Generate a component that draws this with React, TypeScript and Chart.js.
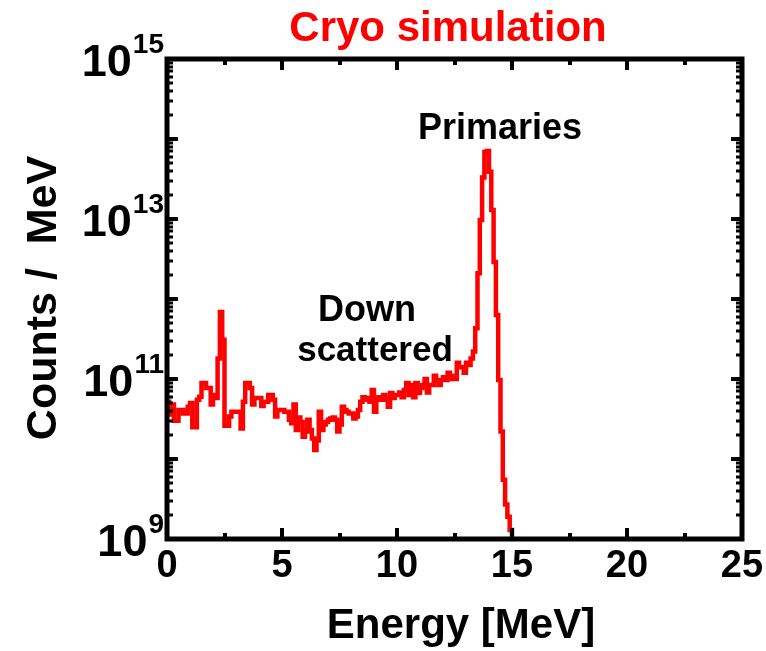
import React, { useEffect, useRef } from "react";
import { Chart, registerables } from "chart.js";

Chart.register(...registerables);

// Histogram binning (MeV)
const BIN_WIDTH = 0.1;
const FIRST_BIN = 0;

// Counts per MeV, 0.0 – 4.9 MeV
const lowEnergyCounts = [
  4.5e10, 5.2e10, 3.6e10, 4.8e10, 3.0e10, 3.0e10, 4.1e10, 4.1e10, 3.7e10, 3.7e10,
  4.5e10, 5.0e10, 2.5e10, 2.5e10, 5.5e10, 6.0e10, 8.9e10, 8.9e10, 7.7e10, 7.7e10,
  4.8e10, 6.3e10, 5.8e10, 1.8e11, 6.9e11, 3.1e11, 2.6e10, 2.6e10, 3.4e10, 3.9e10,
  3.9e10, 3.9e10, 3.9e10, 2.4e10, 5.2e10, 8.9e10, 8.9e10, 7.7e10, 4.8e10, 5.8e10,
  5.8e10, 5.8e10, 4.6e10, 5.2e10, 5.2e10, 6.3e10, 6.3e10, 5.5e10, 3.4e10, 4.1e10,
];

// 5.0 – 9.9 MeV
const midEnergyCounts = [
  4.1e10, 4.1e10, 3.9e10, 3.9e10, 3.1e10, 2.8e10, 4.8e10, 2.3e10, 3.3e10, 2.9e10,
  1.9e10, 2.2e10, 3.1e10, 2.3e10, 1.8e10, 1.3e10, 1.7e10, 3.9e10, 2.3e10, 2.7e10,
  2.9e10, 3.1e10, 3.2e10, 3.3e10, 3.1e10, 2.2e10, 2.7e10, 4.5e10, 4.1e10, 3.9e10,
  3.7e10, 3.7e10, 3.2e10, 3.4e10, 4.1e10, 5.2e10, 5.9e10, 5.5e10, 5.8e10, 5.2e10,
  7.3e10, 3.9e10, 5.5e10, 5.9e10, 5.5e10, 6.3e10, 5.5e10, 4.5e10, 6.7e10, 5.8e10,
];

// 10.0 – 13.4 MeV
const highEnergyCounts = [
  6.3e10, 6.3e10, 6.8e10, 5.9e10, 7.3e10, 8.9e10, 6.3e10, 8.4e10, 5.9e10, 8.9e10,
  6.7e10, 7.7e10, 8.4e10, 1.0e11, 6.8e10, 8.4e10, 8.4e10, 1.1e11, 9.7e10, 8.4e10,
  9.7e10, 1.05e11, 9.7e10, 1.2e11, 1.1e11, 1.0e11, 1.0e11, 1.6e11, 1.4e11, 1.4e11,
  1.2e11, 1.6e11, 1.5e11, 1.8e11, 2.2e11,
];

// 13.5 – 15.1 MeV (primary peak)
const peakCounts = [
  4.3e11, 2.1e12, 9.7e12, 3.3e13, 6.9e13, 7.1e13, 3.9e13, 1.3e13, 2.9e12, 6.3e11,
  9.7e10, 2.2e10, 5.5e9, 2.7e9, 1.9e9, 1.3e9, 6e8,
];

const xTickValues = [0, 5, 10, 15, 20, 25];
const xMinorTickValues = [2.5, 7.5, 12.5, 17.5, 22.5];
const yDecadeExponents = [9, 11, 13, 15];

const X_MIN = 0;
const X_MAX = 25;
const Y_MIN = 1e9;
const Y_MAX = 1e15;

const TITLE = "Cryo simulation";
const X_TITLE = "Energy [MeV]";
const Y_TITLE = "Counts /  MeV";
const PEAK_NOTE = "Primaries";
const TAIL_NOTE = ["Down", "scattered"];

const FONT = '"Liberation Sans", Arial, Helvetica, sans-serif';

function buildSteps() {
  const counts = [...lowEnergyCounts, ...midEnergyCounts, ...highEnergyCounts, ...peakCounts];
  const pts = counts.map((c, i) => ({ x: FIRST_BIN + i * BIN_WIDTH, y: c }));
  // close the last bin at its upper edge
  pts.push({ x: FIRST_BIN + counts.length * BIN_WIDTH, y: counts[counts.length - 1] });
  return pts;
}

const framePlugin = {
  id: "frame",
  afterDatasetsDraw(chart: any) {
    const { ctx, chartArea: a, scales } = chart;
    const xs = scales.x;
    const ys = scales.y;
    ctx.save();
    ctx.strokeStyle = "#000";
    ctx.fillStyle = "#000";

    // x ticks, bottom and top, pointing inward
    ctx.lineWidth = 4;
    const xt = (v: number, len: number) => {
      const px = Math.round(xs.getPixelForValue(v));
      ctx.beginPath();
      ctx.moveTo(px, a.bottom);
      ctx.lineTo(px, a.bottom - len);
      ctx.moveTo(px, a.top);
      ctx.lineTo(px, a.top + len);
      ctx.stroke();
    };
    xTickValues.forEach((v) => xt(v, 11));
    xMinorTickValues.forEach((v) => xt(v, 6));

    // y ticks on the log axis, left and right
    const yt = (v: number, len: number, w: number) => {
      const py = Math.round(ys.getPixelForValue(v));
      ctx.lineWidth = w;
      ctx.beginPath();
      ctx.moveTo(a.left, py);
      ctx.lineTo(a.left + len, py);
      ctx.moveTo(a.right, py);
      ctx.lineTo(a.right - len, py);
      ctx.stroke();
    };
    for (let e = 9; e <= 15; e++) {
      yt(Math.pow(10, e), 11, 4);
      if (e < 15) {
        for (let m = 2; m <= 9; m++) yt(m * Math.pow(10, e), 6, 3);
      }
    }

    // frame
    ctx.lineWidth = 5;
    ctx.strokeRect(a.left, a.top, a.right - a.left, a.bottom - a.top);

    // x tick labels
    ctx.font = `bold 38px ${FONT}`;
    ctx.textAlign = "center";
    ctx.textBaseline = "alphabetic";
    xTickValues.forEach((v) => {
      ctx.fillText(String(v), xs.getPixelForValue(v), 577);
    });

    // y decade labels with superscript exponents
    yDecadeExponents.forEach((e) => {
      const py = ys.getPixelForValue(Math.pow(10, e));
      const exp = String(e);
      ctx.font = `bold 28px ${FONT}`;
      const ew = ctx.measureText(exp).width;
      const expRight = 164;
      ctx.textAlign = "left";
      ctx.fillText(exp, expRight - ew, py - 6);
      ctx.font = `bold 45px ${FONT}`;
      ctx.textAlign = "right";
      ctx.fillText("10", expRight - ew - 1, py + 17);
    });

    // axis titles
    ctx.textAlign = "center";
    ctx.font = `bold 42px ${FONT}`;
    ctx.fillText(X_TITLE, 461, 638);
    ctx.save();
    ctx.translate(56, 298);
    ctx.rotate(-Math.PI / 2);
    ctx.font = `bold 43px ${FONT}`;
    ctx.fillText(Y_TITLE, 0, 0);
    ctx.restore();

    // notes
    ctx.font = `bold 36px ${FONT}`;
    ctx.fillText(PEAK_NOTE, 500, 139);
    ctx.fillText(TAIL_NOTE[0], 367, 321);
    ctx.font = `bold 35px ${FONT}`;
    ctx.fillText(TAIL_NOTE[1], 375, 361);

    // title
    ctx.fillStyle = "#ff0000";
    ctx.font = `bold 42px ${FONT}`;
    ctx.fillText(TITLE, 448, 41);
    ctx.restore();
  },
};

export default function App() {
  const ref = useRef<HTMLCanvasElement | null>(null);

  useEffect(() => {
    if (!ref.current) return;
    const chart = new Chart(ref.current, {
      type: "line",
      data: {
        datasets: [
          {
            data: buildSteps(),
            borderColor: "#ff0000",
            borderWidth: 4.5,
            stepped: "after",
            pointRadius: 0,
            fill: false,
          },
        ],
      },
      options: {
        responsive: false,
        animation: false,
        layout: { padding: { left: 167, right: 24, top: 59, bottom: 112 } },
        scales: {
          x: { type: "linear", min: X_MIN, max: X_MAX, display: false },
          y: { type: "logarithmic", min: Y_MIN, max: Y_MAX, display: false },
        },
        plugins: { legend: { display: false }, tooltip: { enabled: false }, title: { display: false } },
      },
      plugins: [framePlugin],
    } as any);
    return () => chart.destroy();
  }, []);

  return (
    <div style={{ position: "fixed", left: 0, top: 0, width: 766, height: 651, background: "#fff" }}>
      <canvas ref={ref} width={766} height={651} style={{ display: "block", width: 766, height: 651 }} />
    </div>
  );
}
